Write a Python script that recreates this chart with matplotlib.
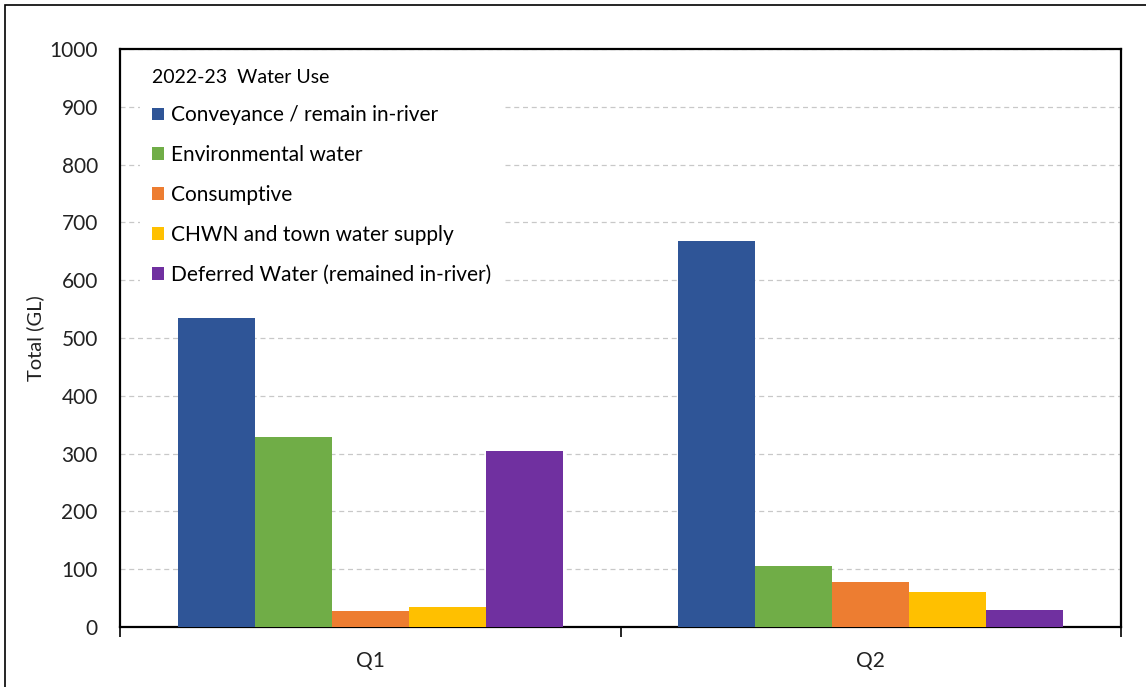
import numpy as np
import matplotlib.pyplot as plt
from matplotlib.patches import Rectangle

# data
quarters = ['Q1', 'Q2']
series_names = ['Conveyance / remain in-river',
                'Environmental water',
                'Consumptive',
                'CHWN and town water supply',
                'Deferred Water (remained in-river)']
conveyance = [535, 668]
environmental = [328, 105]
consumptive = [27, 78]
chwn_town = [34, 60]
deferred = [304, 29]
series_values = [conveyance, environmental, consumptive, chwn_town, deferred]
colors = ['#2F5597', '#70AD47', '#ED7D31', '#FFC000', '#7030A0']

plt.rcParams['font.family'] = ['Lato', 'DejaVu Sans']

fig = plt.figure(figsize=(11.46, 6.87), dpi=100)
ax = fig.add_axes([0.1047, 0.0873, 0.8735, 0.8414])

# outer frame of the picture (top and left edges visible)
fig.patches.append(Rectangle((5/1146, -0.1), 1.2, 1.1 - 5/687,
                             transform=fig.transFigure, fill=False,
                             edgecolor='black', linewidth=1.2))

x = np.arange(len(quarters))
group_w = 0.77
bar_w = group_w / len(series_values)
for i, (vals, name, col) in enumerate(zip(series_values, series_names, colors)):
    offs = -group_w / 2 + bar_w * (i + 0.5)
    ax.bar(x + offs, vals, width=bar_w, color=col, label=name, zorder=3)

ax.set_xlim(-0.5, 1.5)
ax.set_ylim(0, 1000)
ax.set_yticks(np.arange(0, 1001, 100))
ax.tick_params(axis='y', length=0, pad=16, labelsize=15, colors='#222222')

ax.set_xticks([-0.5, 0.5, 1.5])
ax.set_xticklabels([])
ax.set_xticks(x, minor=True)
ax.set_xticklabels(quarters, minor=True)
ax.tick_params(axis='x', which='major', length=7, width=1.2, direction='out')
ax.tick_params(axis='x', which='minor', length=0, pad=17, labelsize=15, colors='#222222')

ax.yaxis.grid(True, linestyle=(0, (4, 3)), color='#c8c8c8', linewidth=0.9)
ax.set_axisbelow(True)
for s in ax.spines.values():
    s.set_linewidth(1.6)
    s.set_color('black')

ax.set_ylabel('Total (GL)', fontsize=14.5, labelpad=4, color='#222222')

leg = ax.legend(loc='upper left', bbox_to_anchor=(0.01, 1.004),
                title='2022-23  Water Use', alignment='left',
                fontsize=15, title_fontsize=14,
                frameon=True, facecolor='white', edgecolor='none', framealpha=1,
                fancybox=False, handlelength=0.58, handleheight=0.58,
                handletextpad=0.33, labelspacing=0.95, borderpad=0.55)
leg.set_zorder(4)

fig.savefig('out.png', dpi=100)
